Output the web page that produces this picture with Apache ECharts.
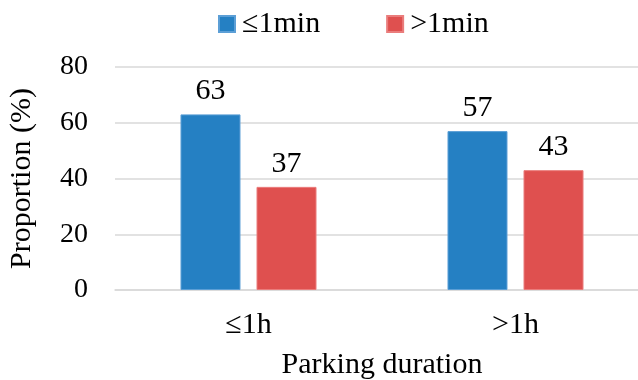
<!DOCTYPE html>
<html>
<head>
<meta charset="utf-8">
<script src="https://cdn.jsdelivr.net/npm/echarts@6/dist/echarts.min.js"></script>
<style>
  html, body { margin: 0; padding: 0; background: #fff; }
  #chart { width: 638px; height: 380px; }
</style>
</head>
<body>
<div id="chart"></div>
<script>
// Parking duration categories and share of each waiting-time group (%)
const categories = ['\u22641h', '>1h'];
const seriesNames = ['\u22641min', '>1min'];
const shortWait = [63, 57];
const longWait = [37, 43];
const yTicks = { min: 0, max: 80, step: 20 };

const FONT = '"Liberation Serif", "Times New Roman", serif';
const chart = echarts.init(document.getElementById('chart'), null, { renderer: 'canvas' });

const labelStyle = {
  show: true,
  position: 'top',
  distance: 8,
  color: '#000',
  fontFamily: FONT,
  fontSize: 30
};

chart.setOption({
  animation: false,
  backgroundColor: '#fff',
  textStyle: { fontFamily: FONT, color: '#000' },
  legend: {
    left: 213,
    top: 4,
    itemWidth: 16,
    itemHeight: 16,
    itemGap: 66,
    icon: 'rect',
    textStyle: { fontFamily: FONT, fontSize: 30, color: '#000', padding: [0, 0, 0, 2] },
    data: seriesNames
  },
  // plot area runs slightly past the right edge of the canvas
  grid: { left: 115, right: -11, top: 67, bottom: 90, outerBoundsMode: 'none', containLabel: false },
  xAxis: {
    type: 'category',
    data: categories,
    axisLine: { show: true, lineStyle: { color: '#d9d9d9', width: 1.5 } },
    axisTick: { show: false },
    axisLabel: { fontFamily: FONT, fontSize: 30, color: '#000', margin: 20 },
    name: 'Parking duration',
    nameLocation: 'middle',
    nameGap: 60,
    nameTextStyle: { fontFamily: FONT, fontSize: 30, color: '#000' }
  },
  yAxis: {
    type: 'value',
    min: yTicks.min,
    max: yTicks.max,
    interval: yTicks.step,
    axisLine: { show: false },
    axisTick: { show: false },
    splitLine: { lineStyle: { color: '#d9d9d9', width: 1.5 } },
    axisLabel: { fontFamily: FONT, fontSize: 28, color: '#000', margin: 27 },
    name: 'Proportion (%)',
    nameLocation: 'middle',
    nameGap: 78,
    nameTextStyle: { fontFamily: FONT, fontSize: 30, color: '#000' }
  },
  series: [
    {
      name: seriesNames[0],
      type: 'bar',
      data: shortWait,
      barWidth: 60,
      barGap: '26.7%',
      itemStyle: { color: '#2580c3', borderColor: '#5c9fd6', borderWidth: 1 },
      label: labelStyle
    },
    {
      name: seriesNames[1],
      type: 'bar',
      data: longWait,
      barWidth: 60,
      barGap: '26.7%',
      itemStyle: { color: '#df504f', borderColor: '#ea7d7c', borderWidth: 1 },
      label: labelStyle
    }
  ]
});
</script>
</body>
</html>
